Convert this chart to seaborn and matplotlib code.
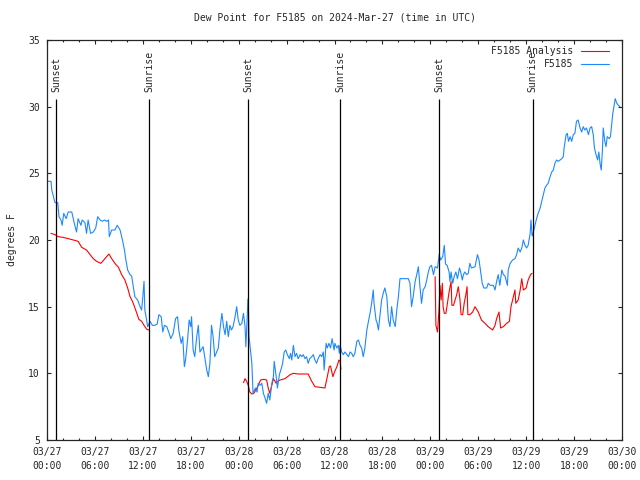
# Dew point time series for station F5185 with sunrise / sunset markers
import numpy as np
import pandas as pd
import matplotlib
matplotlib.use('Agg')
import matplotlib.pyplot as plt
import matplotlib.dates as mdates
from matplotlib.lines import Line2D
import seaborn as sns

start = pd.Timestamp('2024-03-27 00:00')
end = pd.Timestamp('2024-03-30 00:00')

#%% DATA (hours after 03/27 00:00 UTC, degrees F)

obs_hours = [0.13, 0.5, 0.6, 0.75, 1.0, 1.35, 1.5, 1.75, 1.9, 2.1, 2.4, 2.65, 3.1, 3.4, 3.7, 3.9,
             4.25, 4.4, 4.75, 4.95, 5.15, 5.45, 5.8, 6.1, 6.35, 6.65, 6.9, 7.2, 7.5, 7.7, 7.8, 8.1,
             8.5, 8.8, 9.15, 9.45, 9.7, 9.85, 10.1, 10.4, 10.6, 10.8, 11.0, 11.35, 11.65, 11.85, 12.0,
             12.15, 12.25, 12.4, 12.6, 12.9, 13.2, 13.5, 13.8, 14.0, 14.3, 14.5, 14.7, 15.0, 15.3,
             15.5, 15.8, 16.1, 16.35, 16.5, 16.8, 17.0, 17.2, 17.35, 17.6, 17.8, 18.0, 18.1, 18.3,
             18.5, 18.75, 18.95, 19.15, 19.35, 19.55, 19.7, 20.0, 20.2, 20.4, 20.6, 20.8, 21.0, 21.25,
             21.45, 21.65, 21.9, 22.1, 22.3, 22.5, 22.7, 22.9, 23.1, 23.3, 23.55, 23.75, 23.95, 24.15,
             24.4, 24.6, 24.8, 24.9, 25.1, 25.2, 25.3, 25.65, 25.8, 26.1, 26.3, 26.45, 26.7, 26.9,
             27.1, 27.3, 27.5, 27.7, 27.9, 28.15, 28.35, 28.45, 28.7, 28.85, 29.1, 29.4, 29.5, 29.7,
             29.9, 30.1, 30.35, 30.5, 30.65, 30.85, 31.05, 31.25, 31.45, 31.7, 31.9, 32.1, 32.3, 32.5,
             32.7, 32.9, 33.15, 33.35, 33.55, 33.75, 33.95, 34.2, 34.4, 34.6, 34.7, 34.95, 35.1, 35.3,
             35.5, 35.7, 35.95, 36.05, 36.3, 36.5, 36.6, 36.7, 36.9, 37.1, 37.3, 37.55, 37.75, 37.95,
             38.15, 38.35, 38.55, 38.8, 39.0, 39.2, 39.4, 39.6, 39.8, 40.05, 40.25, 40.45, 40.65,
             40.85, 40.95, 41.2, 41.35, 41.5, 41.7, 41.9, 42.1, 42.3, 42.55, 42.75, 42.95, 43.15,
             43.35, 43.6, 43.8, 44.0, 44.2, 44.8, 45.25, 45.45, 45.65, 45.85, 46.1, 46.3, 46.5, 46.7,
             46.9, 47.1, 47.35, 47.55, 47.75, 47.95, 48.15, 48.4, 48.6, 48.9, 49.1, 49.3, 49.55,
             49.75, 49.9, 50.1, 50.35, 50.45, 50.6, 50.8, 51.0, 51.2, 51.4, 51.65, 51.8, 52.0, 52.15,
             52.3, 52.55, 52.75, 52.95, 53.15, 53.6, 53.9, 54.1, 54.3, 54.5, 54.7, 55.05, 55.25, 55.5,
             55.9, 56.1, 56.3, 56.5, 56.7, 56.95, 57.15, 57.35, 57.65, 57.75, 58.0, 58.3, 58.6, 58.8,
             59.0, 59.25, 59.45, 59.65, 59.85, 60.05, 60.25, 60.5, 60.6, 60.75, 60.9, 61.1, 61.3,
             61.5, 61.75, 61.95, 62.15, 62.35, 62.55, 62.75, 63.0, 63.2, 63.4, 63.6, 63.8, 64.0,
             64.25, 64.45, 64.65, 64.75, 65.0, 65.15, 65.3, 65.5, 65.7, 65.9, 66.1, 66.3, 66.5,
             66.75, 66.95, 67.15, 67.35, 67.55, 67.8, 68.0, 68.2, 68.4, 68.55, 68.75, 68.95, 69.1,
             69.25, 69.4, 69.55, 69.65, 69.85, 70.0, 70.15, 70.4, 70.55, 70.7, 70.85, 71.05, 71.15,
             71.35, 71.55, 71.75]
obs_dewpt = [24.4, 24.4, 23.75, 23.4, 22.8, 22.8, 21.75, 21.5, 21.1, 22.0, 21.6, 22.1, 22.1, 21.3,
             20.6, 21.6, 21.1, 21.5, 21.3, 20.5, 21.5, 20.5, 20.6, 20.9, 21.75, 21.5, 21.4, 21.5,
             21.4, 21.5, 20.25, 20.75, 20.75, 21.1, 20.75, 20.0, 19.25, 18.6, 17.75, 17.4, 17.3,
             16.5, 15.75, 15.5, 15.0, 14.75, 15.75, 16.9, 14.75, 14.25, 13.5, 13.9, 13.6, 13.6, 13.7,
             14.4, 14.25, 13.1, 13.6, 13.5, 13.0, 12.6, 13.0, 14.1, 14.25, 13.25, 12.25, 12.75, 10.5,
             11.0, 12.5, 14.0, 13.5, 14.25, 11.75, 11.25, 12.75, 13.6, 11.6, 11.8, 12.0, 11.4, 10.25,
             9.75, 10.75, 13.6, 12.75, 11.25, 11.6, 11.9, 13.25, 14.5, 13.5, 12.9, 13.9, 12.75, 13.6,
             13.25, 13.5, 14.25, 15.0, 14.0, 13.6, 13.75, 14.5, 13.5, 12.0, 14.6, 15.6, 12.75, 10.75,
             8.5, 8.9, 8.6, 9.25, 9.1, 9.25, 8.5, 8.15, 7.75, 8.5, 8.0, 9.25, 9.75, 10.9, 9.75, 8.9,
             9.9, 10.5, 10.75, 11.6, 11.75, 11.4, 11.1, 11.5, 11.0, 12.1, 11.25, 11.5, 11.1, 11.4,
             11.25, 11.4, 11.1, 11.25, 10.75, 11.1, 11.25, 11.4, 11.0, 10.75, 11.1, 11.4, 11.25,
             11.6, 10.25, 12.25, 11.9, 12.25, 11.9, 12.6, 11.75, 12.25, 11.9, 12.1, 11.5, 12.1, 11.6,
             11.4, 11.6, 11.4, 11.25, 11.6, 11.5, 11.25, 11.5, 12.4, 12.5, 12.1, 11.9, 11.25, 11.9,
             13.25, 13.9, 14.5, 15.25, 16.25, 15.25, 14.0, 13.75, 13.25, 14.4, 15.5, 16.0, 16.4,
             15.75, 14.0, 13.5, 15.0, 14.0, 13.5, 14.75, 15.75, 17.1, 17.1, 17.1, 16.75, 15.0, 15.75,
             16.9, 17.4, 18.0, 16.5, 15.25, 16.25, 16.5, 17.0, 17.6, 18.0, 18.1, 17.4, 18.0, 17.9,
             18.9, 18.5, 18.75, 19.6, 18.2, 18.1, 17.6, 16.9, 17.6, 16.75, 17.3, 17.6, 17.1, 17.9,
             17.6, 17.0, 17.4, 17.6, 17.4, 17.5, 18.25, 17.9, 18.0, 18.9, 18.5, 17.6, 16.75, 16.4,
             16.4, 16.75, 16.6, 16.6, 16.25, 16.9, 17.4, 16.6, 17.75, 17.4, 17.3, 16.6, 17.75, 18.25,
             18.5, 18.6, 18.9, 19.4, 19.1, 19.4, 20.0, 19.6, 19.4, 19.6, 20.5, 21.5, 20.3, 20.6,
             21.1, 21.6, 22.0, 22.4, 22.9, 23.4, 23.9, 24.1, 24.25, 24.75, 25.1, 25.25, 25.75, 26.0,
             25.9, 26.0, 26.1, 26.25, 26.9, 27.9, 28.0, 27.4, 27.75, 27.4, 27.9, 28.0, 28.9, 29.0,
             28.4, 28.1, 28.5, 28.25, 28.4, 27.9, 28.4, 28.5, 27.9, 26.9, 26.4, 26.0, 26.6, 25.75,
             25.25, 26.75, 28.4, 27.4, 27.0, 27.75, 27.6, 27.75, 28.6, 29.5, 30.25, 30.6, 30.25,
             30.1, 30.0]

# analysis is only available overnight, in three pieces
ana_hours_1 = [0.5, 1.0, 1.4, 2.0, 2.65, 3.3, 3.9, 4.35, 4.95, 5.4, 5.8, 6.2, 6.75, 7.25, 7.75,
               8.1, 8.5, 8.95, 9.35, 9.75, 10.1, 10.4, 10.7, 10.95, 11.25, 11.5, 11.85, 12.2,
               12.5, 12.75]
ana_dewpt_1 = [20.5, 20.4, 20.25, 20.2, 20.1, 20.0, 19.9, 19.45, 19.25, 18.9, 18.6, 18.4, 18.25,
               18.6, 18.95, 18.6, 18.25, 17.95, 17.4, 17.0, 16.4, 15.75, 15.4, 15.0, 14.5, 14.05,
               13.9, 13.55, 13.3, 13.25]
ana_hours_2 = [24.6, 24.8, 25.0, 25.2, 25.4, 25.65, 25.9, 26.15, 26.45, 26.75, 27.15, 27.5, 27.7,
               27.9, 28.15, 28.35, 28.7, 28.85, 29.2, 29.8, 30.45, 30.85, 31.45, 32.1, 32.7, 33.15,
               33.55, 34.2, 34.8, 35.1, 35.35, 35.5, 35.8, 36.0, 36.3, 36.55, 36.7, 36.8]
ana_dewpt_2 = [9.3, 9.6, 9.4, 9.1, 8.6, 8.45, 8.5, 8.75, 9.1, 9.5, 9.55, 9.5, 8.9, 8.5, 9.1, 9.6,
               9.25, 9.4, 9.5, 9.6, 9.9, 10.0, 9.95, 9.95, 9.95, 9.4, 9.0, 8.95, 8.9, 9.75, 10.5,
               10.55, 9.75, 10.1, 10.5, 11.0, 10.9, 10.3]
ana_hours_3 = [48.6, 48.7, 48.9, 49.1, 49.2, 49.35, 49.5, 49.6, 49.75, 49.95, 50.15, 50.35, 50.6,
               50.7, 50.9, 51.1, 51.3, 51.5, 51.7, 51.85, 52.05, 52.25, 52.45, 52.6, 52.7, 52.95,
               53.3, 53.6, 54.0, 54.4, 54.85, 55.25, 55.8, 56.1, 56.3, 56.6, 56.8, 57.15, 57.55,
               57.9, 58.1, 58.4, 58.6, 58.7, 59.0, 59.25, 59.45, 59.65, 60.0, 60.25, 60.55, 60.75]
ana_dewpt_3 = [17.25, 13.6, 13.1, 14.9, 16.6, 15.5, 16.75, 15.0, 14.5, 14.5, 15.3, 16.1, 16.9,
               15.1, 15.1, 15.5, 15.9, 16.5, 15.6, 14.4, 14.4, 15.3, 15.9, 16.5, 14.4, 14.4, 14.6,
               15.0, 14.6, 14.0, 13.75, 13.5, 13.25, 13.6, 14.1, 14.6, 13.4, 13.5, 13.75, 13.9,
               15.0, 15.75, 16.25, 15.25, 15.5, 16.25, 17.1, 16.25, 16.4, 17.0, 17.4, 17.5]

event_hours = [1.17, 12.8, 25.2, 36.7, 49.1, 60.8]
event_names = ['Sunset', 'Sunrise', 'Sunset', 'Sunrise', 'Sunset', 'Sunrise']

series_names = ['F5185 Analysis', 'F5185']
series_colors = ['#ff0000', '#1e88ff']


def to_time(hours):
    return start + pd.to_timedelta(np.array(hours), unit='h')


obs = pd.DataFrame({'time': to_time(obs_hours), 'dewpt': obs_dewpt})
ana = pd.concat([
    pd.DataFrame({'time': to_time(h), 'dewpt': d, 'seg': i})
    for i, (h, d) in enumerate([(ana_hours_1, ana_dewpt_1),
                                (ana_hours_2, ana_dewpt_2),
                                (ana_hours_3, ana_dewpt_3)])
], ignore_index=True)


#%% PLOT

sns.set_style('ticks')
plt.rcParams['font.family'] = ['DejaVu Sans Mono']
plt.rcParams['font.size'] = 7

fig = plt.figure(figsize=(6.4, 4.8), dpi=100)
ax = fig.add_axes([47/640, 40/480, 575/640, 400/480])

sns.lineplot(data=ana, x='time', y='dewpt', units='seg', estimator=None,
             color=series_colors[0], lw=0.8, ax=ax, legend=False)
sns.lineplot(data=obs, x='time', y='dewpt', estimator=None,
             color=series_colors[1], lw=0.8, ax=ax, legend=False)

ev_times = to_time(event_hours)
ax.vlines(ev_times, 5, 30.6, color='black', lw=0.9)
for t, name in zip(ev_times, event_names):
    ax.text(t, 31.1, name, rotation=90, ha='center', va='bottom', fontsize=7)

ax.set_xlim(start, end)
ax.set_ylim(5, 35)
ax.set_yticks(np.arange(5, 36, 5))
ax.xaxis.set_major_locator(mdates.HourLocator(byhour=range(0, 24, 6)))
ax.xaxis.set_minor_locator(mdates.HourLocator(byhour=range(0, 24, 2)))
ax.xaxis.set_major_formatter(mdates.DateFormatter('%m/%d\n%H:%M'))
ax.tick_params(which='both', direction='in', top=True, right=True, width=0.8, labelsize=7)
ax.tick_params(which='major', length=3, pad=5)
ax.tick_params(which='minor', length=1.6)
for s in ax.spines.values():
    s.set_linewidth(0.9)
    s.set_visible(True)

ax.set_xlabel('')
ax.set_ylabel('degrees F', fontsize=7, labelpad=8)
ax.set_title('Dew Point for F5185 on 2024-Mar-27 (time in UTC)', fontsize=7, pad=14)

handles = [Line2D([], [], color=c, lw=0.8) for c in series_colors]
ax.legend(handles, series_names, loc='upper right', bbox_to_anchor=(0.978, 0.985),
          frameon=False, markerfirst=False, handlelength=2.9, handletextpad=0.8,
          labelspacing=0.35, borderpad=0, borderaxespad=0, fontsize=7)

fig.canvas.draw()
for lbl in ax.get_xticklabels():
    lbl.set_linespacing(1.45)

fig.savefig('out.png', dpi=100)
